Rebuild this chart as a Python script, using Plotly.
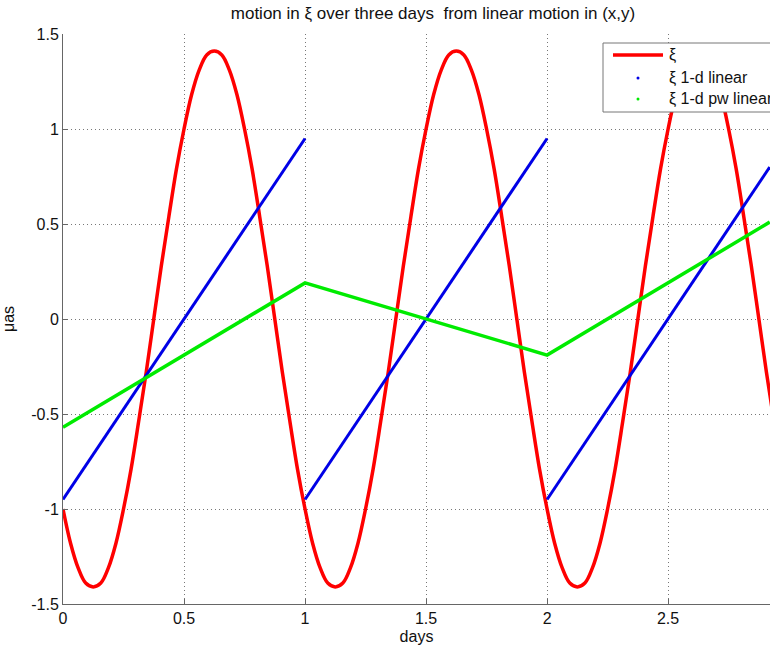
import plotly.graph_objects as go

# ---- data ----
xi_t = [i / 32 for i in range(95)]  # sample days 0 .. 2.9375
xi_vals = [-1.00, -1.18, -1.31, -1.39, -1.41, -1.39, -1.31, -1.18,
           -1.00, -0.79, -0.54, -0.28, 0.00, 0.28, 0.54, 0.79,
           1.00, 1.18, 1.31, 1.39, 1.41, 1.39, 1.31, 1.18,
           1.00, 0.79, 0.54, 0.28, 0.00, -0.28, -0.54, -0.79,
           -1.00, -1.18, -1.31, -1.39, -1.41, -1.39, -1.31, -1.18,
           -1.00, -0.79, -0.54, -0.28, 0.00, 0.28, 0.54, 0.79,
           1.00, 1.18, 1.31, 1.39, 1.41, 1.39, 1.31, 1.18,
           1.00, 0.79, 0.54, 0.28, 0.00, -0.28, -0.54, -0.79,
           -1.00, -1.18, -1.31, -1.39, -1.41, -1.39, -1.31, -1.18,
           -1.00, -0.79, -0.54, -0.28, 0.00, 0.28, 0.54, 0.79,
           1.00, 1.18, 1.31, 1.39, 1.41, 1.39, 1.31, 1.18,
           1.00, 0.79, 0.54, 0.28, 0.00, -0.28, -0.54]

lin_t = [0, 1, None, 1, 2, None, 2, 2.92]
lin_vals = [-0.95, 0.95, None, -0.95, 0.95, None, -0.95, 0.80]

pw_t = [0, 1, 2, 2.92]
pw_vals = [-0.57, 0.19, -0.19, 0.51]

x_ticks = [0, 0.5, 1, 1.5, 2, 2.5]
x_ticklabels = ["0", "0.5", "1", "1.5", "2", "2.5"]
y_ticks = [-1.5, -1, -0.5, 0, 0.5, 1, 1.5]
y_ticklabels = ["-1.5", "-1", "-0.5", "0", "0.5", "1", "1.5"]

legend_names = ["ξ", "ξ 1-d linear", "ξ 1-d pw linear"]
colors = ["rgb(255,0,0)", "rgb(0,0,230)", "rgb(0,235,0)"]

FONT = "Liberation Sans, Arial, sans-serif"
TXT = "#111"

fig = go.Figure()
fig.add_trace(go.Scatter(x=xi_t, y=xi_vals, mode="lines", line=dict(color=colors[0], width=3.5, shape="spline"),
                         showlegend=False, hoverinfo="skip"))
fig.add_trace(go.Scatter(x=lin_t, y=lin_vals, mode="lines", line=dict(color=colors[1], width=3),
                         showlegend=False, connectgaps=False, hoverinfo="skip"))
fig.add_trace(go.Scatter(x=pw_t, y=pw_vals, mode="lines", line=dict(color=colors[2], width=3.5),
                         showlegend=False, hoverinfo="skip"))

axis_common = dict(showline=True, linecolor="#666", linewidth=1, ticks="inside", ticklen=5,
                   tickcolor="#666", showgrid=True, gridcolor="#777", griddash="1px,3px", gridwidth=1,
                   zeroline=False, tickfont=dict(family=FONT, size=16, color=TXT))

fig.update_layout(
    width=770, height=650,
    margin=dict(l=63, r=0, t=34, b=46),
    paper_bgcolor="white", plot_bgcolor="white",
    title=dict(text="motion in ξ over three days  from linear motion in (x,y)", x=433 / 770, xanchor="center",
               y=1 - 13 / 650, yanchor="middle", font=dict(family=FONT, size=17, color=TXT)),
    xaxis=dict(range=[0, 2.921], tickvals=x_ticks, ticktext=x_ticklabels,
               title=dict(text="days", font=dict(family=FONT, size=16, color=TXT), standoff=4),
               **axis_common),
    yaxis=dict(range=[-1.5, 1.5], tickvals=y_ticks, ticktext=y_ticklabels,
               title=dict(text="μas", font=dict(family=FONT, size=16, color=TXT), standoff=12),
               **axis_common),
    xaxis2=dict(overlaying="x", side="top", range=[0, 2.921], tickvals=x_ticks, showticklabels=False,
                ticks="inside", ticklen=5, tickcolor="#666", showline=False, showgrid=False, zeroline=False),
)

# ---- custom legend (clipped at the right edge like the reference) ----
def px_x(p):
    return (p - 63) / 707

def px_y(p):
    return (604 - p) / 570

fig.add_shape(type="rect", xref="paper", yref="paper", x0=px_x(603), x1=px_x(820), y0=px_y(112), y1=px_y(43),
              line=dict(color="#777", width=1), fillcolor="white", layer="above")
entry_y = [55, 78, 99]
fig.add_shape(type="line", xref="paper", yref="paper", x0=px_x(613), x1=px_x(663), y0=px_y(entry_y[0]),
              y1=px_y(entry_y[0]), line=dict(color=colors[0], width=3.5), layer="above")
for k in (1, 2):
    fig.add_shape(type="circle", xref="paper", yref="paper", x0=px_x(636.5), x1=px_x(639.5),
                  y0=px_y(entry_y[k] + 1.5), y1=px_y(entry_y[k] - 1.5),
                  line=dict(color=colors[k], width=0), fillcolor=colors[k], layer="above")
for k in range(3):
    fig.add_annotation(xref="paper", yref="paper", x=px_x(667), y=px_y(entry_y[k]), text=legend_names[k],
                       showarrow=False, xanchor="left", yanchor="middle",
                       font=dict(family=FONT, size=16, color=TXT))

fig.write_html("out.html")
